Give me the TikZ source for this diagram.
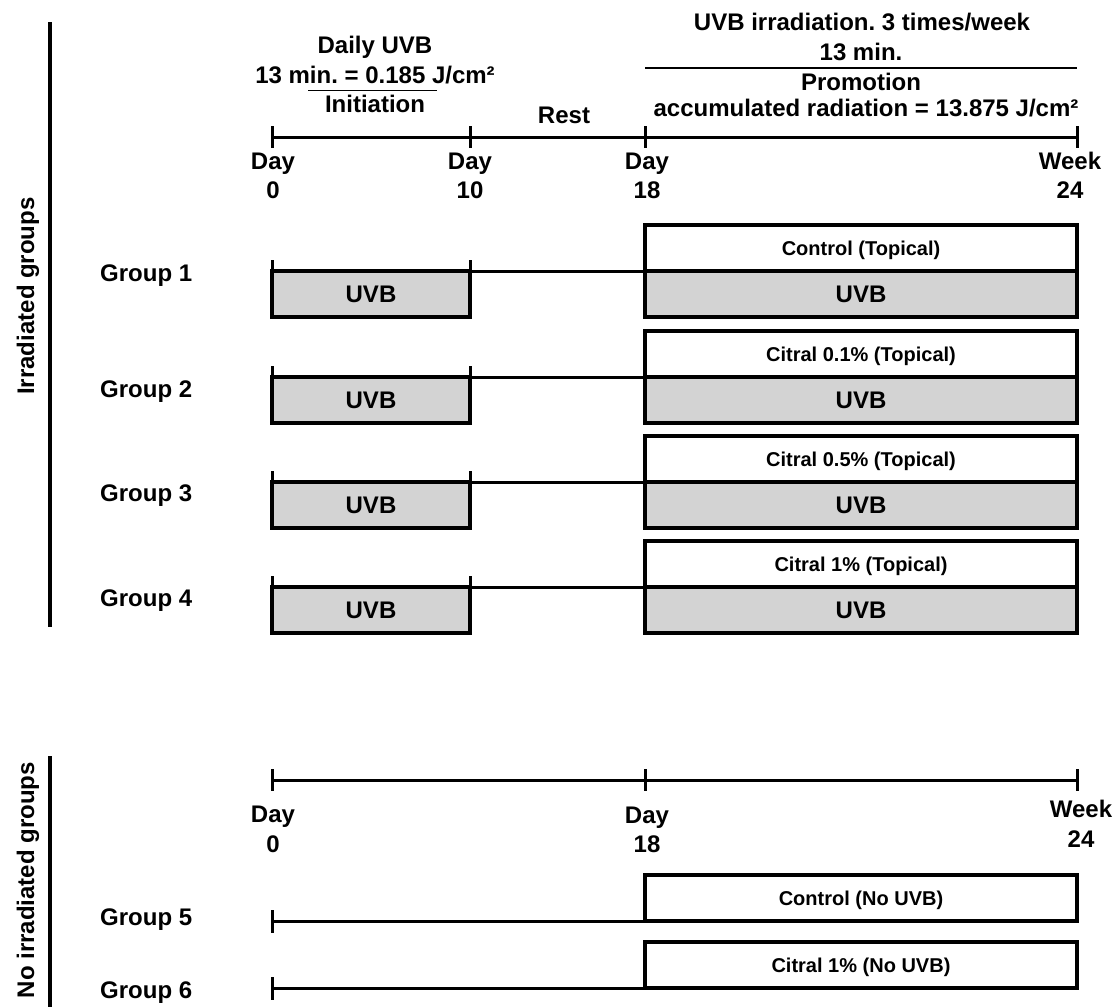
\documentclass[tikz,border=0pt]{standalone}
\usepackage{fontspec}
\setmainfont{Liberation Sans}
\frenchspacing
\definecolor{uvbgray}{RGB}{211,211,211}
\begin{document}
\begin{tikzpicture}[x=1pt,y=-1pt,
		txt/.style={font=\bfseries\fontsize{24}{28}\selectfont,inner sep=0pt,anchor=base},
		axis/.style={line width=3pt},
		topbox/.style={draw,line width=3.5pt,fill=white,inner sep=0pt,outer sep=0pt,minimum width=432pt,minimum height=46pt,
			text height=14.3pt,text depth=0pt,font=\bfseries\fontsize{20}{24}\selectfont},
		uvbbox/.style={draw,line width=3.5pt,fill=uvbgray,inner sep=0pt,outer sep=0pt,minimum height=46pt,
			text height=17pt,text depth=0pt,font=\bfseries\fontsize{24}{28}\selectfont}]
	\useasboundingbox (0,0) rectangle (1118,1007);
	% side brackets
	\draw[line width=4pt] (50,22) -- (50,627);
	\node[txt,rotate=90] (irr) at (34,296) {Irradiated groups};
	\draw[line width=4pt] (50,756) -- (50,1007);
	\node[txt,rotate=90] (noirr) at (34,880) {No irradiated groups};
	% header
	\node[txt] (daily) at (375,53) {Daily UVB};
	\node[txt] (dose) at (375,83) {13 min. = 0.185 J/cm²};
	\node[txt] (init) at (375,112) {Initiation};
	\draw[line width=1.3pt] (308,90.5) -- (437,90.5);
	\node[txt] (rest) at (564,123) {Rest};
	\node[txt] (freq) at (862,30) {UVB irradiation. 3 times/week};
	\node[txt] (mins) at (861,60) {13 min.};
	\node[txt] (promo) at (861,90) {Promotion};
	\node[txt] (accum) at (866,116.5) {accumulated radiation = 13.875 J/cm²};
	\draw[line width=1.3pt] (645,68) -- (1077,68);
	% upper time line
	\coordinate (t0) at (272,137);
	\coordinate (t10) at (470,137);
	\coordinate (t18) at (645,137);
	\coordinate (t24) at (1077,137);
	\draw[axis] (t0) -- (t24);
	\foreach \c in {t0,t10,t18,t24}{
		\draw[axis] ([yshift=11pt]\c) -- ([yshift=-11pt]\c);
	}
	\foreach \x/\w/\n/\v in {273/Day/0/0,470/Day/10/10,647/Day/18/18,1070/Week/24/24}{
		\node[txt] (lab\n) at (\x,169) {\w};
		\node[txt] (num\n) at (\x,198) {\v};
	}
	% irradiated groups
	\foreach \g/\m/\b/\txt in {1/271/281/Control (Topical),2/377/397.5/Citral 0.1\% (Topical),
		3/482/501/Citral 0.5\% (Topical),4/587/606/Citral 1\% (Topical)}{
		\node[txt,anchor=base west] (grp\g) at (100,\b) {Group \g};
		\node[uvbbox,minimum width=198pt] (ini\g) at (371,\m+23) {UVB};
		\node[uvbbox,minimum width=432pt] (pro\g) at (861,\m+23) {UVB};
		\node[topbox] (top\g) at (861,\m-23) {\txt};
		\draw[axis] (ini\g.north west) -- ++(0,-11);
		\draw[axis] (ini\g.north east) -- ++(0,-11);
		\draw[axis] (ini\g.north east) -- (top\g.south west);
	}
	% lower time line
	\coordinate (b0) at (272,780);
	\coordinate (b18) at (645,780);
	\coordinate (b24) at (1077,780);
	\draw[axis] (b0) -- (b24);
	\foreach \c in {b0,b18,b24}{
		\draw[axis] ([yshift=11pt]\c) -- ([yshift=-11pt]\c);
	}
	\node[txt] (blab0) at (273,822) {Day};
	\node[txt] (bnum0) at (273,852) {0};
	\node[txt] (blab18) at (647,823) {Day};
	\node[txt] (bnum18) at (647,852) {18};
	\node[txt] (blab24) at (1081,817) {Week};
	\node[txt] (bnum24) at (1081,847) {24};
	% no irradiated groups
	\foreach \g/\m/\b/\txt in {5/921/925/Control (No UVB),6/988/998/Citral 1\% (No UVB)}{
		\node[txt,anchor=base west] (grp\g) at (100,\b) {Group \g};
		\coordinate (s\g) at (272,\m);
		\node[topbox] (top\g) at (861,\m-23) {\txt};
		\draw[axis] ([yshift=11pt]s\g) -- ([yshift=-12pt]s\g);
		\draw[axis] (s\g) -- (top\g.south west);
	}
\end{tikzpicture}
\end{document}
